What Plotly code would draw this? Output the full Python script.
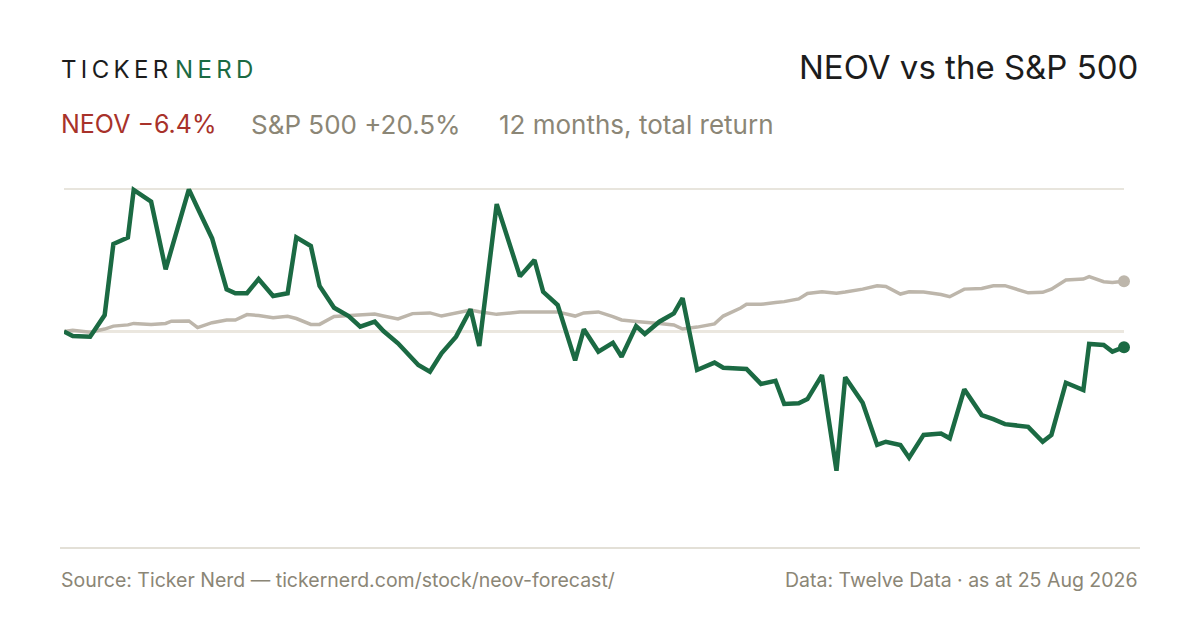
import datetime as dt
import plotly.graph_objects as go

# ---- data ----
start_date = "2025-08-25"
day_offsets = [0, 3, 9, 14, 17, 22, 24, 30, 35, 37, 43, 46, 51, 56, 59, 63, 67, 72, 77, 80,
               85, 88, 93, 98, 102, 107, 110, 115, 120, 122, 126, 130, 135, 140, 143, 149, 157,
               162, 165, 170, 176, 179, 184, 189, 192, 197, 200, 205, 210, 213, 218, 224, 227,
               233, 235, 240, 245, 248, 253, 256, 261, 266, 269, 275, 280, 283, 288, 291, 296,
               302, 305, 310, 316, 320, 324, 332, 337, 340, 345, 351, 353, 358, 361, 365]

neov_pct = [0.0, -1.8, -2.1, 6.7, 35.7, 38.4, 57.8, 53.0, 25.4, 33.3, 58.0, 50.4, 38.0, 17.2,
            15.6, 15.6, 21.4, 14.5, 15.6, 38.4, 34.9, 18.6, 9.7, 6.3, 2.0, 4.0, 0.2, -4.8,
            -10.9, -13.7, -16.4, -8.9, -2.1, 9.1, -5.9, 52.0, 22.5, 29.2, 16.2, 10.8, -11.8,
            0.9, -8.2, -4.6, -10.3, 2.2, -1.0, 4.0, 7.4, 13.6, -15.7, -12.7, -14.8, -15.0,
            -15.3, -21.4, -20.1, -29.6, -29.3, -27.6, -17.8, -56.8, -18.7, -29.1, -46.3, -45.0,
            -46.3, -51.5, -42.2, -41.6, -43.6, -23.6, -34.1, -35.8, -37.8, -38.9, -45.0, -42.2,
            -20.9, -23.9, -5.1, -5.5, -8.2, -6.4]

spx_pct = [0.0, 0.5, -0.3, 1.0, 2.2, 2.7, 3.3, 2.9, 3.3, 4.2, 4.3, 1.6, 3.6, 4.7, 4.7, 6.9,
           6.5, 5.6, 6.2, 5.3, 2.9, 2.9, 6.1, 6.5, 7.0, 7.1, 6.3, 5.1, 7.3, 7.4, 7.6, 6.3, 7.6,
           8.8, 8.1, 7.0, 8.0, 7.8, 8.0, 8.0, 6.3, 7.6, 8.0, 6.1, 4.7, 4.1, 3.9, 3.3, 2.7, 1.0,
           1.8, 3.1, 6.3, 9.6, 11.1, 11.1, 11.8, 12.2, 13.3, 15.5, 16.2, 15.6, 16.1, 17.3,
           18.7, 18.4, 15.3, 16.2, 16.1, 15.1, 14.2, 17.3, 17.6, 18.7, 18.7, 15.8, 16.0, 17.3,
           21.0, 21.4, 22.4, 20.3, 20.0, 20.5]

ticker = "NEOV"
neov_total = "−6.4%"
spx_total = "+20.5%"
period_label = "12 months, total return"
source_text = "Source: Ticker Nerd — tickernerd.com/stock/neov-forecast/"
data_text = "Data: Twelve Data · as at 25 Aug 2026"

# ---- build ----
d0 = dt.date.fromisoformat(start_date)
dates = [d0 + dt.timedelta(days=d) for d in day_offsets]

GREEN = "#1b6a43"
GREY_LINE = "#bdb6ab"
GREY_TEXT = "#8b8676"
RED = "#a8322a"
GRID = "#e8e5dd"
FONT = "Inter, Liberation Sans, sans-serif"

W, H = 1200, 630
ML, MR, MT, MB = 56, 84, 172, 98
PW, PH = W - ML - MR, H - MT - MB
OFF = 8  # page offset of the drawn figure


def px(x, y):
    """screen pixel -> paper coords"""
    fx, fy = x - OFF, y - OFF
    return (fx - ML) / PW, 1 - (fy - MT) / PH


fig = go.Figure()
fig.add_trace(go.Scatter(x=dates, y=spx_pct, mode="lines",
                         line=dict(color=GREY_LINE, width=3.5), hoverinfo="skip"))
fig.add_trace(go.Scatter(x=[dates[-1]], y=[spx_pct[-1]], mode="markers", cliponaxis=False,
                         marker=dict(color=GREY_LINE, size=12), hoverinfo="skip"))
fig.add_trace(go.Scatter(x=dates, y=neov_pct, mode="lines",
                         line=dict(color=GREEN, width=4.5), hoverinfo="skip"))
fig.add_trace(go.Scatter(x=[dates[-1]], y=[neov_pct[-1]], mode="markers", cliponaxis=False,
                         marker=dict(color=GREEN, size=12), hoverinfo="skip"))

ymax = max(neov_pct + spx_pct)

fig.update_layout(
    width=W, height=H,
    paper_bgcolor="white", plot_bgcolor="white",
    showlegend=False,
    margin=dict(l=ML, r=MR, t=MT, b=MB),
    font=dict(family=FONT, color=GREY_TEXT),
    xaxis=dict(range=[dates[0], dates[-1]], showgrid=False, zeroline=False,
               showticklabels=False, showline=False, ticks=""),
    yaxis=dict(range=[-85.1, 61.84], tickvals=[0, ymax], showticklabels=False,
               showgrid=True, gridcolor=GRID, gridwidth=1.5,
               zeroline=True, zerolinecolor="#ebe7df", zerolinewidth=3,
               showline=False, ticks=""),
)

TS = "\u2009"
brand_a = TS.join("TICKER")
brand_b = TS.join("NERD")

annotations = [
    (59, 70, "left", "%s <span style='color:%s'>%s</span>" % (brand_a, GREEN, brand_b),
     24, "#1c1c1c"),
    (1140, 67, "right", "NEOV vs the S&amp;P 500", 33, "#1c1c1c"),
    (59, 124, "left", "%s %s" % (ticker, neov_total), 25, RED),
    (249, 124, "left", "S&amp;P 500 %s" % spx_total, 26, GREY_TEXT),
    (497, 124, "left", period_label, 26, GREY_TEXT),
    (59, 580, "left", source_text, 19.5, GREY_TEXT),
    (1140, 580, "right", data_text, 19.5, GREY_TEXT),
]
for x, y, anchor, text, size, color in annotations:
    ax, ay = px(x, y)
    fig.add_annotation(text=text, x=ax, y=ay, xref="paper", yref="paper",
                       xanchor=anchor, yanchor="middle", showarrow=False,
                       font=dict(size=size, color=color, family=FONT))

lx0, ly = px(60, 548)
lx1, _ = px(1140, 548)
fig.add_shape(type="line", xref="paper", yref="paper",
              x0=lx0, x1=lx1, y0=ly, y1=ly,
              line=dict(color="#e3e0d7", width=2))

fig.write_html("out.html")
